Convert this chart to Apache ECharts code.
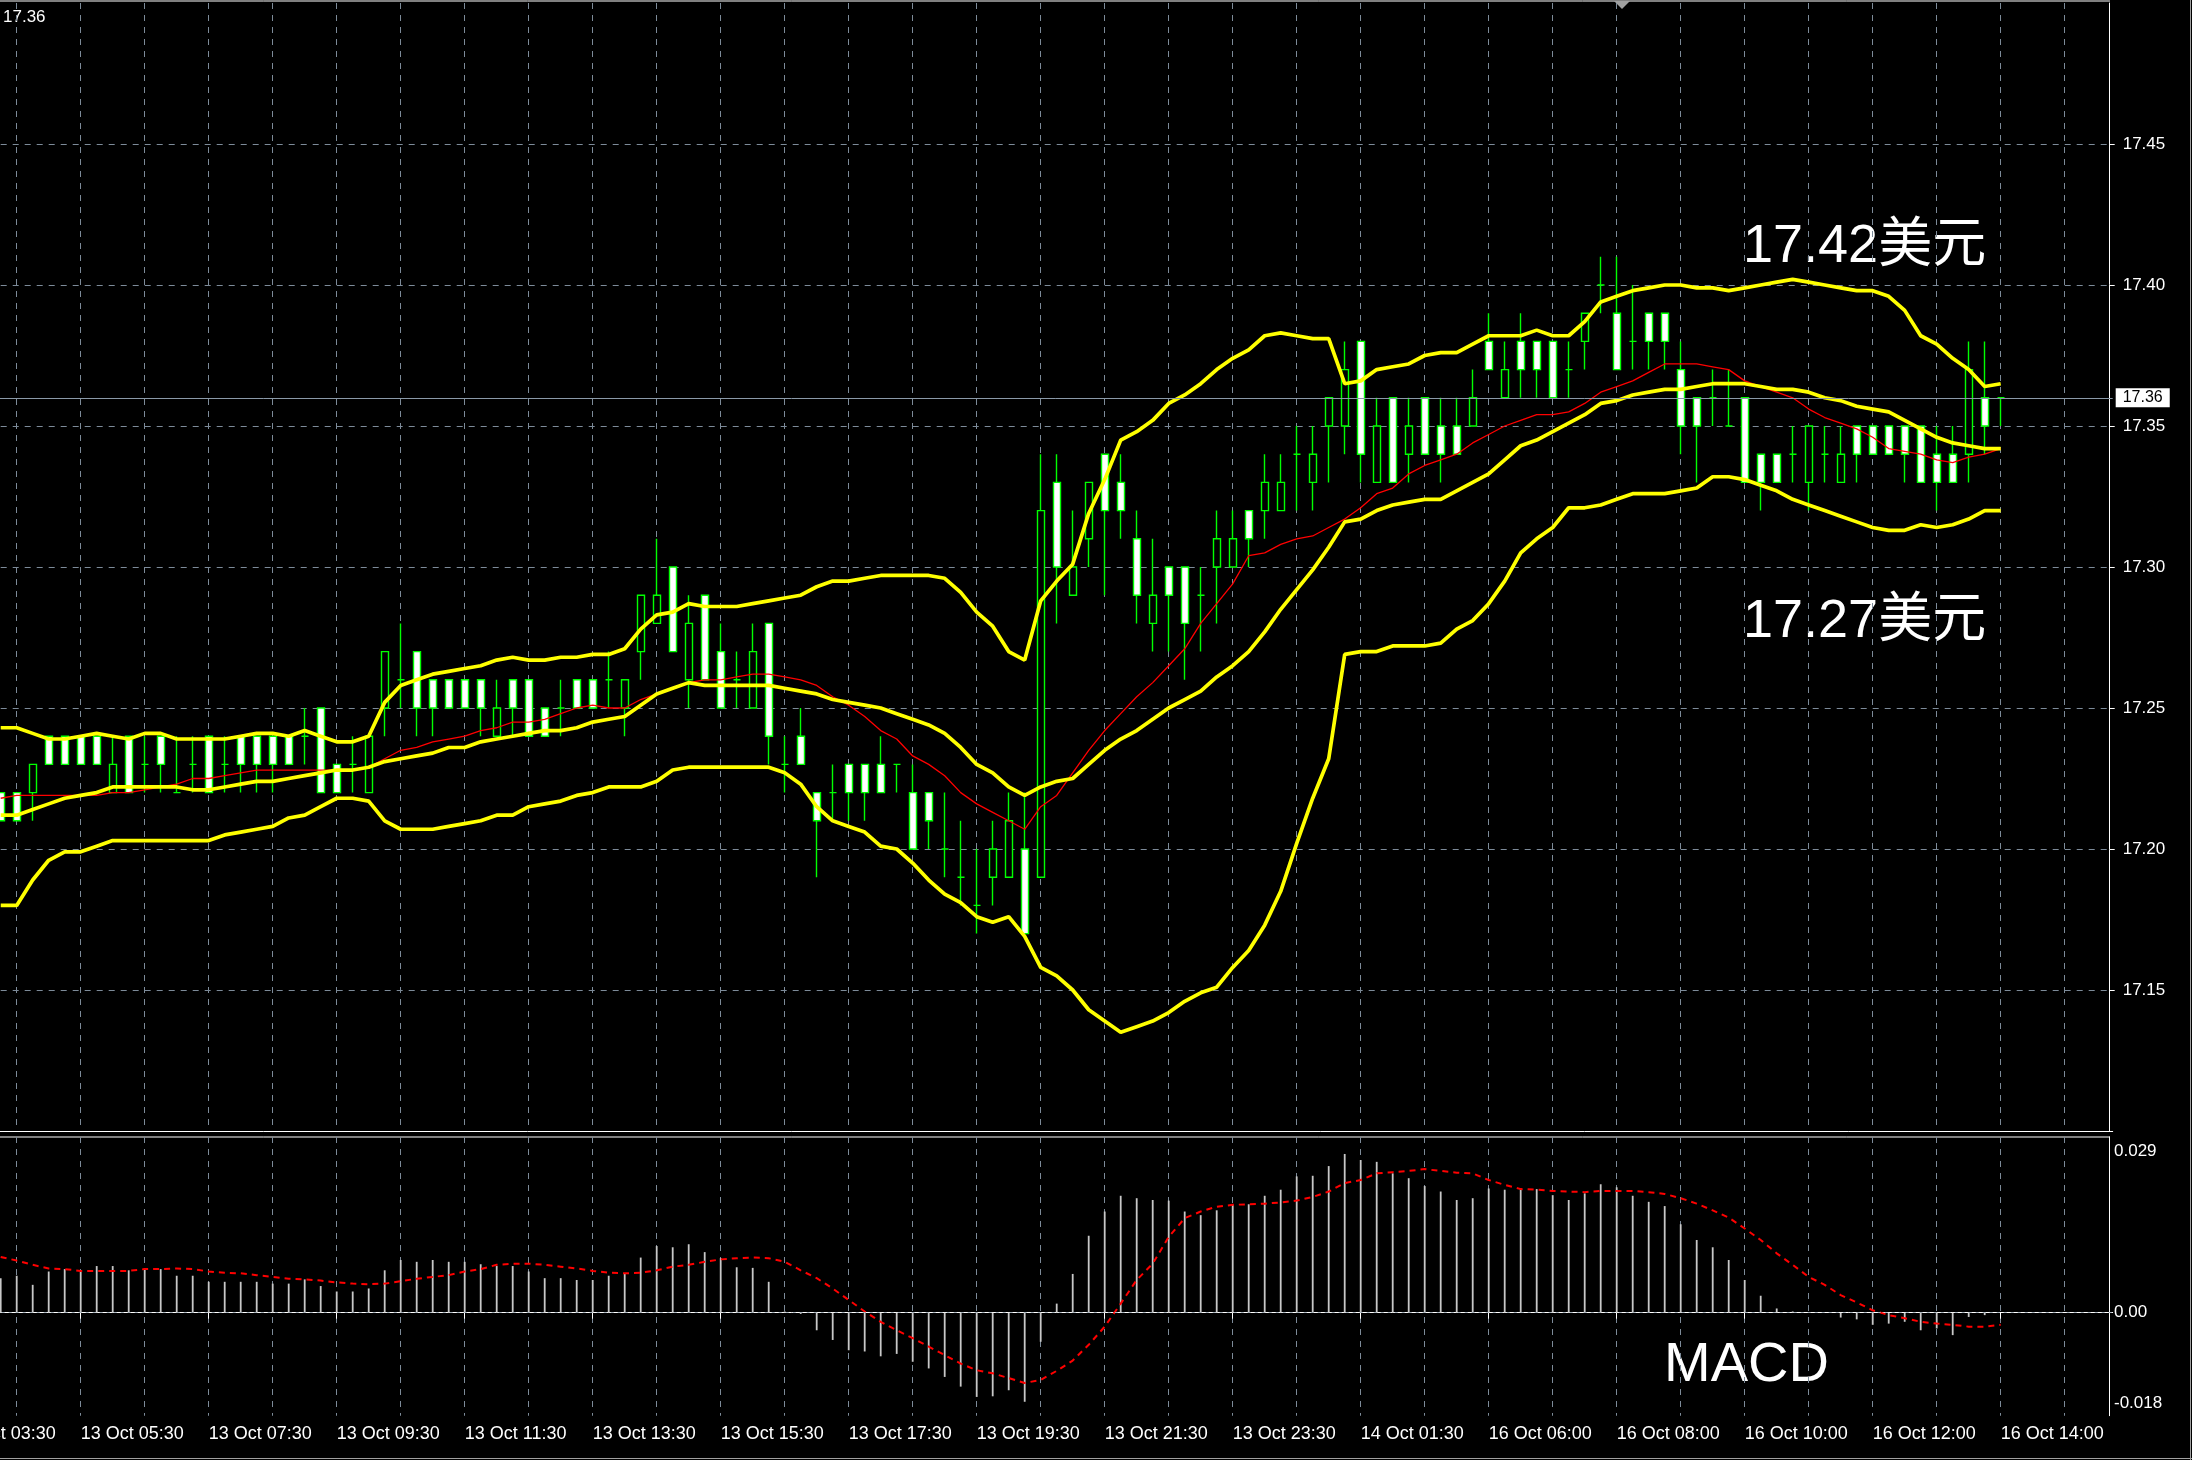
<!DOCTYPE html>
<html><head><meta charset="utf-8">
<script src="https://cdn.jsdelivr.net/npm/echarts@6/dist/echarts.min.js"></script>
<style>html,body{margin:0;padding:0;background:#000;}#chart{width:2192px;height:1460px;}</style>
</head><body><div id="chart"></div>
<script>
// ---------- DATA ----------
const tickLabels = ['13 Oct 03:30','13 Oct 05:30','13 Oct 07:30','13 Oct 09:30','13 Oct 11:30','13 Oct 13:30','13 Oct 15:30','13 Oct 17:30','13 Oct 19:30','13 Oct 21:30','13 Oct 23:30','14 Oct 01:30','16 Oct 06:00','16 Oct 08:00','16 Oct 10:00','16 Oct 12:00','16 Oct 14:00'];

// [open, close, low, high]
const ohlc = [
[17.22,17.21,17.21,17.22],[17.22,17.21,17.21,17.22],[17.22,17.23,17.21,17.23],[17.24,17.23,17.23,17.24],[17.24,17.23,17.23,17.24],
[17.24,17.23,17.23,17.24],[17.24,17.23,17.23,17.24],[17.22,17.23,17.22,17.24],[17.24,17.22,17.22,17.24],[17.23,17.23,17.22,17.24],
[17.24,17.23,17.22,17.24],[17.22,17.22,17.22,17.24],[17.23,17.23,17.22,17.24],[17.24,17.22,17.22,17.24],[17.23,17.23,17.22,17.24],
[17.24,17.23,17.22,17.24],[17.24,17.23,17.22,17.24],[17.24,17.23,17.22,17.24],[17.24,17.23,17.23,17.24],[17.24,17.24,17.23,17.25],
[17.25,17.22,17.22,17.25],[17.23,17.22,17.22,17.23],[17.23,17.23,17.22,17.24],[17.22,17.24,17.22,17.24],[17.25,17.27,17.24,17.27],
[17.26,17.26,17.25,17.28],[17.27,17.25,17.24,17.27],[17.26,17.25,17.24,17.26],[17.26,17.25,17.25,17.26],[17.26,17.25,17.25,17.26],
[17.26,17.25,17.24,17.26],[17.24,17.25,17.24,17.26],[17.26,17.25,17.24,17.26],[17.26,17.24,17.24,17.26],[17.25,17.24,17.24,17.25],
[17.25,17.25,17.24,17.26],[17.26,17.25,17.25,17.26],[17.26,17.25,17.25,17.26],[17.26,17.26,17.25,17.27],[17.25,17.26,17.24,17.26],
[17.27,17.29,17.26,17.29],[17.28,17.29,17.28,17.31],[17.30,17.27,17.27,17.30],[17.26,17.28,17.25,17.29],[17.29,17.26,17.26,17.29],
[17.27,17.25,17.25,17.28],[17.26,17.26,17.25,17.27],[17.25,17.27,17.25,17.28],[17.28,17.24,17.23,17.28],[17.23,17.23,17.22,17.24],
[17.24,17.23,17.23,17.25],[17.22,17.21,17.19,17.22],[17.22,17.22,17.21,17.23],[17.23,17.22,17.21,17.23],[17.23,17.22,17.21,17.23],
[17.23,17.22,17.22,17.24],[17.23,17.23,17.22,17.23],[17.22,17.20,17.20,17.23],[17.22,17.21,17.20,17.22],[17.20,17.20,17.19,17.22],
[17.19,17.19,17.18,17.21],[17.18,17.18,17.17,17.20],[17.19,17.20,17.18,17.21],[17.19,17.21,17.19,17.22],[17.20,17.17,17.17,17.22],
[17.19,17.32,17.19,17.34],[17.33,17.30,17.28,17.34],[17.29,17.30,17.29,17.32],[17.31,17.33,17.30,17.33],[17.34,17.32,17.29,17.34],
[17.33,17.32,17.31,17.34],[17.31,17.29,17.28,17.32],[17.28,17.29,17.27,17.31],[17.30,17.29,17.27,17.30],[17.30,17.28,17.26,17.30],
[17.29,17.29,17.27,17.30],[17.30,17.31,17.28,17.32],[17.30,17.31,17.30,17.32],[17.32,17.31,17.30,17.32],[17.32,17.33,17.31,17.34],
[17.32,17.33,17.32,17.34],[17.34,17.34,17.32,17.35],[17.33,17.34,17.32,17.35],[17.35,17.36,17.33,17.36],[17.35,17.37,17.34,17.38],
[17.38,17.34,17.33,17.38],[17.33,17.35,17.33,17.36],[17.36,17.33,17.33,17.36],[17.34,17.35,17.33,17.36],[17.36,17.34,17.34,17.36],
[17.35,17.34,17.33,17.36],[17.35,17.34,17.34,17.36],[17.35,17.36,17.35,17.37],[17.38,17.37,17.37,17.39],[17.36,17.37,17.36,17.38],
[17.38,17.37,17.36,17.39],[17.38,17.37,17.36,17.38],[17.38,17.36,17.36,17.38],[17.37,17.37,17.36,17.38],[17.38,17.39,17.37,17.39],
[17.40,17.40,17.39,17.41],[17.39,17.37,17.37,17.41],[17.38,17.38,17.37,17.40],[17.39,17.38,17.37,17.39],[17.39,17.38,17.37,17.39],
[17.37,17.35,17.34,17.38],[17.36,17.35,17.33,17.36],[17.36,17.36,17.35,17.37],[17.35,17.35,17.35,17.37],[17.36,17.33,17.33,17.36],
[17.34,17.33,17.32,17.34],[17.34,17.33,17.33,17.34],[17.34,17.34,17.33,17.35],[17.33,17.35,17.32,17.35],[17.34,17.34,17.33,17.35],
[17.33,17.34,17.33,17.35],[17.35,17.34,17.33,17.35],[17.35,17.34,17.34,17.35],[17.35,17.34,17.34,17.35],[17.35,17.34,17.33,17.35],
[17.35,17.33,17.33,17.35],[17.34,17.33,17.32,17.35],[17.34,17.33,17.33,17.35],[17.34,17.37,17.33,17.38],[17.36,17.35,17.34,17.38],
[17.36,17.36,17.35,17.36]
];

const bbUpper = [17.243,17.243,17.241,17.239,17.239,17.240,17.241,17.240,17.239,17.241,17.241,17.239,17.239,17.239,17.239,17.240,17.241,17.241,17.240,17.242,
17.240,17.238,17.238,17.240,17.252,17.258,17.260,17.262,17.263,17.264,17.265,17.267,17.268,17.267,17.267,17.268,17.268,17.269,17.269,17.271,
17.278,17.283,17.284,17.287,17.286,17.286,17.286,17.287,17.288,17.289,17.290,17.293,17.295,17.295,17.296,17.297,17.297,17.297,17.297,17.296,
17.291,17.284,17.279,17.270,17.267,17.288,17.295,17.301,17.319,17.331,17.345,17.348,17.352,17.358,17.361,17.365,17.370,17.374,17.377,17.382,
17.383,17.382,17.381,17.381,17.365,17.366,17.370,17.371,17.372,17.375,17.376,17.376,17.379,17.382,17.382,17.382,17.384,17.382,17.382,17.387,
17.394,17.396,17.398,17.399,17.400,17.400,17.399,17.399,17.398,17.399,17.400,17.401,17.402,17.401,17.400,17.399,17.398,17.398,17.396,17.391,
17.382,17.379,17.374,17.370,17.364,17.365];

const bbMiddle = [17.212,17.212,17.214,17.216,17.218,17.219,17.220,17.222,17.222,17.222,17.222,17.222,17.221,17.221,17.222,17.223,17.224,17.224,17.225,17.226,
17.227,17.228,17.228,17.229,17.231,17.232,17.233,17.234,17.236,17.236,17.238,17.239,17.240,17.241,17.242,17.242,17.243,17.245,17.246,17.247,
17.251,17.255,17.257,17.259,17.258,17.258,17.258,17.258,17.258,17.257,17.256,17.255,17.253,17.252,17.251,17.250,17.248,17.246,17.244,17.241,
17.236,17.230,17.227,17.222,17.219,17.222,17.224,17.225,17.230,17.235,17.239,17.242,17.246,17.250,17.253,17.256,17.261,17.265,17.270,17.277,
17.285,17.292,17.299,17.307,17.316,17.317,17.320,17.322,17.323,17.324,17.324,17.327,17.330,17.333,17.338,17.343,17.345,17.348,17.351,17.354,
17.358,17.359,17.361,17.362,17.363,17.363,17.364,17.365,17.365,17.365,17.364,17.363,17.363,17.362,17.360,17.359,17.357,17.356,17.355,17.352,
17.349,17.346,17.344,17.343,17.342,17.342];

const bbLower = [17.180,17.180,17.189,17.196,17.199,17.199,17.201,17.203,17.203,17.203,17.203,17.203,17.203,17.203,17.205,17.206,17.207,17.208,17.211,17.212,
17.215,17.218,17.218,17.217,17.210,17.207,17.207,17.207,17.208,17.209,17.210,17.212,17.212,17.215,17.216,17.217,17.219,17.220,17.222,17.222,
17.222,17.224,17.228,17.229,17.229,17.229,17.229,17.229,17.229,17.227,17.223,17.215,17.210,17.208,17.206,17.201,17.200,17.195,17.189,17.184,
17.181,17.176,17.174,17.176,17.169,17.158,17.155,17.150,17.143,17.139,17.135,17.137,17.139,17.142,17.146,17.149,17.151,17.158,17.164,17.173,
17.185,17.202,17.218,17.232,17.269,17.270,17.270,17.272,17.272,17.272,17.273,17.278,17.281,17.287,17.295,17.305,17.310,17.314,17.321,17.321,
17.322,17.324,17.326,17.326,17.326,17.327,17.328,17.332,17.332,17.331,17.329,17.327,17.324,17.322,17.320,17.318,17.316,17.314,17.313,17.313,
17.315,17.314,17.315,17.317,17.320,17.320];

const maRed = [17.218,17.219,17.219,17.219,17.219,17.219,17.219,17.220,17.220,17.221,17.222,17.223,17.225,17.225,17.226,17.227,17.228,17.228,17.228,17.228,
17.228,17.228,17.228,17.229,17.232,17.235,17.236,17.238,17.239,17.240,17.242,17.243,17.245,17.245,17.246,17.248,17.250,17.251,17.250,17.250,
17.253,17.255,17.257,17.259,17.260,17.260,17.261,17.262,17.262,17.261,17.260,17.258,17.254,17.251,17.247,17.242,17.239,17.233,17.230,17.226,
17.220,17.216,17.213,17.210,17.207,17.215,17.219,17.227,17.235,17.242,17.248,17.254,17.259,17.265,17.271,17.280,17.287,17.294,17.304,17.305,
17.308,17.310,17.311,17.314,17.317,17.321,17.326,17.328,17.333,17.336,17.338,17.340,17.344,17.347,17.350,17.352,17.354,17.354,17.355,17.358,
17.362,17.364,17.366,17.369,17.372,17.372,17.372,17.371,17.370,17.366,17.364,17.362,17.360,17.356,17.353,17.351,17.349,17.346,17.342,17.341,
17.340,17.338,17.337,17.339,17.340,17.342];

const macdHist = [0.0057,0.0061,0.0046,0.0068,0.0072,0.0070,0.0077,0.0077,0.0070,0.0073,
0.0072,0.0061,0.0061,0.0051,0.0051,0.0051,0.0051,0.0048,0.0048,0.0055,
0.0044,0.0035,0.0035,0.0040,0.0070,0.0087,0.0084,0.0087,0.0084,0.0084,
0.0080,0.0077,0.0077,0.0068,0.0057,0.0057,0.0054,0.0054,0.0061,0.0065,
0.0091,0.0110,0.0108,0.0113,0.0100,0.0090,0.0075,0.0074,0.0051,0.0002,
-0.0002,-0.0029,-0.0045,-0.0062,-0.0064,-0.0072,-0.0068,-0.0081,-0.0092,-0.0106,
-0.0122,-0.0139,-0.0138,-0.0128,-0.0147,-0.0048,0.0015,0.0064,0.0127,0.0167,
0.0193,0.0189,0.0186,0.0185,0.0167,0.0161,0.0169,0.0178,0.0179,0.0193,
0.0203,0.0225,0.0226,0.0242,0.0262,0.0252,0.0249,0.0230,0.0222,0.0209,
0.0200,0.0186,0.0189,0.0205,0.0203,0.0205,0.0204,0.0194,0.0186,0.0197,
0.0212,0.0207,0.0193,0.0183,0.0176,0.0146,0.0120,0.0108,0.0087,0.0054,
0.0028,0.0007,0.0002,0.0000,0.0000,-0.0008,-0.0011,-0.0020,-0.0018,-0.0015,
-0.0029,-0.0026,-0.0037,-0.0007,-0.0004,0.0000];

const macdSignal = [0.0092,0.0086,0.0079,0.0073,0.0072,0.0069,0.0069,0.0069,0.0069,0.0072,
0.0072,0.0073,0.0072,0.0068,0.0066,0.0065,0.0062,0.0059,0.0056,0.0055,
0.0053,0.0050,0.0048,0.0047,0.0048,0.0052,0.0056,0.0059,0.0062,0.0068,
0.0072,0.0079,0.0081,0.0081,0.0079,0.0076,0.0073,0.0069,0.0066,0.0065,
0.0066,0.0070,0.0076,0.0079,0.0084,0.0088,0.0090,0.0091,0.0090,0.0084,
0.0070,0.0057,0.0040,0.0021,0.0002,-0.0015,-0.0029,-0.0042,-0.0056,-0.0070,
-0.0084,-0.0095,-0.0100,-0.0108,-0.0116,-0.0111,-0.0096,-0.0079,-0.0053,-0.0023,
0.0015,0.0054,0.0081,0.0125,0.0156,0.0167,0.0175,0.0178,0.0179,0.0180,
0.0182,0.0185,0.0191,0.0200,0.0214,0.0219,0.0230,0.0232,0.0234,0.0237,
0.0234,0.0231,0.0230,0.0219,0.0211,0.0204,0.0203,0.0201,0.0200,0.0199,
0.0201,0.0201,0.0201,0.0199,0.0196,0.0189,0.0180,0.0169,0.0157,0.0139,
0.0120,0.0098,0.0079,0.0059,0.0046,0.0029,0.0017,0.0004,-0.0004,-0.0009,
-0.0015,-0.0018,-0.0020,-0.0023,-0.0023,-0.0020];

const currentPrice = 17.36;
const macdAxisLabels = ['0.029', '0.00', '-0.018'];
const annotationTexts = ['17.42美元', '17.27美元', 'MACD'];

// ---------- BUILD ----------
const LEAD = 3, TOTAL = 136;
const categories = [];
for (let k = 0; k < TOTAL; k++) {
  categories.push(k % 8 === 0 && tickLabels[k / 8] ? tickLabels[k / 8] : 'b' + k);
}
const padLine = Array(LEAD).fill('-');
const candleData = Array(LEAD).fill(['-', '-', '-', '-']).concat(ohlc);

const FONT = "'Liberation Sans', 'Noto Sans CJK SC', sans-serif";
const GRID_COLOR = '#7d8b99';
const DASH = [6, 6];

const chart = echarts.init(document.getElementById('chart'), null, { renderer: 'canvas' });

const option = {
  backgroundColor: '#000000',
  animation: false,
  grid: [
    { left: -47.3, top: 3, width: 2160, height: 1128, containLabel: false, outerBoundsMode: 'none' },
    { left: -47.3, top: 1137, width: 2160, height: 278.7, containLabel: false, outerBoundsMode: 'none' }
  ],
  xAxis: [
    {
      type: 'category', gridIndex: 0, data: categories, boundaryGap: false,
      axisLine: { show: true, lineStyle: { color: '#ffffff', width: 1 } },
      axisTick: { show: false }, axisLabel: { show: false },
      splitLine: { show: true, interval: (i) => i % 4 === 0, lineStyle: { color: GRID_COLOR, type: DASH, width: 1 } }
    },
    {
      type: 'category', gridIndex: 1, data: categories, boundaryGap: false,
      axisLine: { show: true, lineStyle: { color: '#ffffff', width: 1 } },
      axisTick: { show: true, interval: (i) => i % 8 === 0, length: 6, lineStyle: { color: '#ffffff' } },
      axisLabel: { show: true, interval: (i) => i % 8 === 0, align: 'left', color: '#ffffff', fontSize: 18, fontFamily: FONT, margin: 9 },
      splitLine: { show: true, interval: (i) => i % 4 === 0, lineStyle: { color: GRID_COLOR, type: DASH, width: 1 } }
    }
  ],
  yAxis: [
    {
      type: 'value', gridIndex: 0, position: 'right', min: 17.10, max: 17.50, interval: 0.05, offset: -3,
      axisLine: { show: true, lineStyle: { color: '#ffffff' } },
      axisTick: { show: true, length: 5, lineStyle: { color: '#ffffff' } },
      axisLabel: { color: '#ffffff', fontSize: 17, fontFamily: FONT, margin: 13, showMinLabel: false, showMaxLabel: false,
        formatter: (v) => v.toFixed(2) },
      splitLine: { show: true, showMinLine: false, showMaxLine: false, lineStyle: { color: GRID_COLOR, type: DASH, width: 1 } }
    },
    {
      type: 'value', gridIndex: 1, position: 'right', min: -0.017, max: 0.029, offset: -3,
      axisLine: { show: true, lineStyle: { color: '#ffffff' } },
      axisTick: { show: false }, axisLabel: { show: false }, splitLine: { show: false }
    }
  ],
  series: [
    {
      type: 'candlestick', xAxisIndex: 0, yAxisIndex: 0, data: candleData, barWidth: 7.6, large: false,
      itemStyle: { color: '#000000', color0: '#ffffff', borderColor: '#00ff00', borderColor0: '#00ff00', borderColorDoji: '#00ff00', borderWidth: 1.4 },
      markLine: {
        silent: true, symbol: ['none', 'none'], animation: false,
        lineStyle: { color: '#8a99a8', type: 'solid', width: 1 },
        label: { show: true, position: 'end', formatter: currentPrice.toFixed(2), color: '#000000', backgroundColor: '#ffffff',
          fontSize: 16, fontFamily: FONT, padding: [2, 7, 1, 7], distance: 3 },
        data: [{ yAxis: currentPrice }]
      }
    },
    { type: 'line', xAxisIndex: 0, yAxisIndex: 0, data: padLine.concat(maRed), symbol: 'none', lineStyle: { color: '#ff0000', width: 1.3 } },
    { type: 'line', xAxisIndex: 0, yAxisIndex: 0, data: padLine.concat(bbUpper), symbol: 'none', lineStyle: { color: '#ffff00', width: 3.7 } },
    { type: 'line', xAxisIndex: 0, yAxisIndex: 0, data: padLine.concat(bbMiddle), symbol: 'none', lineStyle: { color: '#ffff00', width: 3.7 } },
    { type: 'line', xAxisIndex: 0, yAxisIndex: 0, data: padLine.concat(bbLower), symbol: 'none', lineStyle: { color: '#ffff00', width: 3.7 } },
    {
      type: 'bar', xAxisIndex: 1, yAxisIndex: 1, data: padLine.concat(macdHist), barWidth: 1.8,
      itemStyle: { color: '#c8c8c8' },
      markLine: {
        silent: true, symbol: ['none', 'none'], animation: false, label: { show: false },
        lineStyle: { color: '#a9b4be', type: [3, 4], width: 1 },
        data: [{ yAxis: 0 }]
      }
    },
    { type: 'line', xAxisIndex: 1, yAxisIndex: 1, data: padLine.concat(macdSignal), symbol: 'none', lineStyle: { color: '#ff0000', width: 2, type: [6, 5] } }
  ],
  graphic: [
    { type: 'line', silent: true, shape: { x1: 0, y1: 1, x2: 2110, y2: 1 }, style: { stroke: '#ffffff', lineWidth: 1 } },
    { type: 'line', silent: true, shape: { x1: 0, y1: 1137, x2: 2110, y2: 1137 }, style: { stroke: '#ffffff', lineWidth: 1 } },
    { type: 'line', silent: true, shape: { x1: 0, y1: 1458.5, x2: 2192, y2: 1458.5 }, style: { stroke: '#a0a0a0', lineWidth: 1 } },
    { type: 'line', silent: true, shape: { x1: 2190.5, y1: 0, x2: 2190.5, y2: 1460 }, style: { stroke: '#a0a0a0', lineWidth: 1 } },
    { type: 'polygon', silent: true, shape: { points: [[1614, 1], [1630, 1], [1622, 9]] }, style: { fill: '#a0a0a0' } },
    { type: 'text', silent: true, x: 3, y: 17.5, style: { text: currentPrice.toFixed(2), fill: '#ffffff', fontSize: 17, fontFamily: FONT, verticalAlign: 'middle' } },
    { type: 'text', silent: true, x: 1743, y: 247.5, style: { text: annotationTexts[0], fill: '#ffffff', fontSize: 54, fontFamily: FONT, verticalAlign: 'middle' } },
    { type: 'text', silent: true, x: 1743, y: 622.5, style: { text: annotationTexts[1], fill: '#ffffff', fontSize: 54, fontFamily: FONT, verticalAlign: 'middle' } },
    { type: 'text', silent: true, x: 1664, y: 1366, style: { text: annotationTexts[2], fill: '#ffffff', fontSize: 56, fontFamily: FONT, verticalAlign: 'middle' } },
    { type: 'text', silent: true, x: 2114, y: 1151.7, style: { text: macdAxisLabels[0], fill: '#ffffff', fontSize: 17, fontFamily: FONT, verticalAlign: 'middle' } },
    { type: 'text', silent: true, x: 2114, y: 1312.7, style: { text: macdAxisLabels[1], fill: '#ffffff', fontSize: 17, fontFamily: FONT, verticalAlign: 'middle' } },
    { type: 'text', silent: true, x: 2114, y: 1403.3, style: { text: macdAxisLabels[2], fill: '#ffffff', fontSize: 17, fontFamily: FONT, verticalAlign: 'middle' } }
  ]
};
chart.setOption(option);
</script>
</body></html>
